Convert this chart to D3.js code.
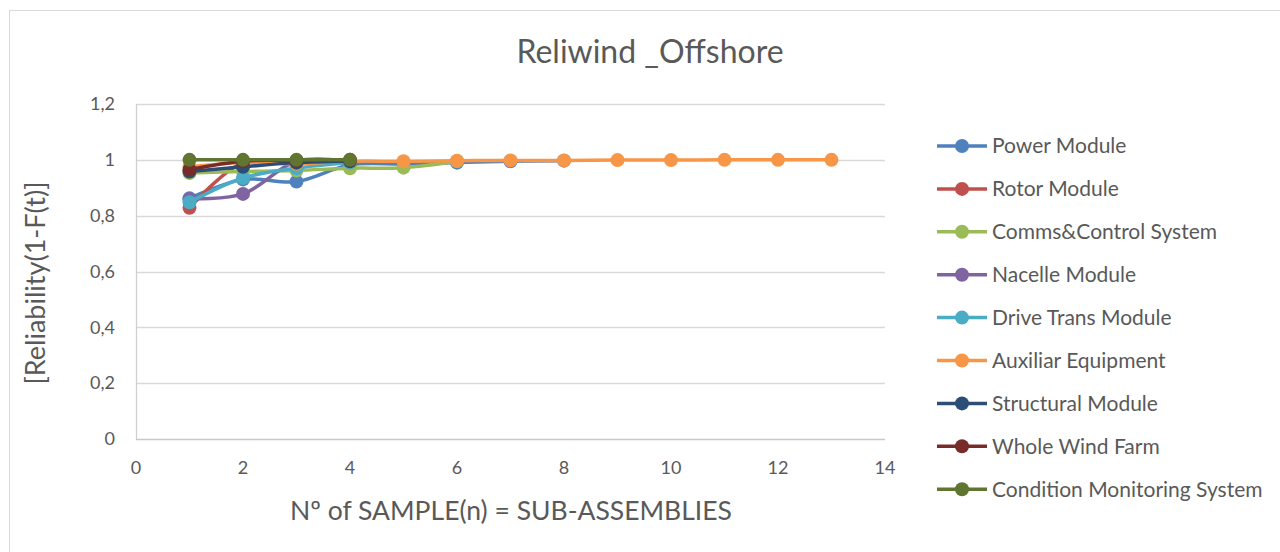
<!DOCTYPE html>
<html>
<head>
<meta charset="utf-8">
<script src="https://cdn.jsdelivr.net/npm/d3@7"></script>
<style>
  body { margin: 0; background: #fff; }
  svg text { font-family: Lato, "Open Sans", sans-serif; fill: #595959; }
</style>
</head>
<body>
<div id="chart"></div>
<script>
// DATA
var seriesNames = ["Power Module", "Rotor Module", "Comms&Control System", "Nacelle Module",
  "Drive Trans Module", "Auxiliar Equipment", "Structural Module", "Whole Wind Farm",
  "Condition Monitoring System"];
var seriesColors = ["#4F81BD", "#C0504D", "#9BBB59", "#8064A2", "#4BACC6", "#F79646",
  "#2C4D75", "#772C2A", "#5F7530"];

var powerModule = [0.862, 0.93, 0.922, 0.982, 0.985, 0.99, 0.995, 0.997];
var rotorModule = [0.828, 0.99, 0.99, 0.995];
var commsControl = [0.953, 0.958, 0.962, 0.97, 0.972, 0.995];
var nacelleModule = [0.86, 0.878, 0.995, 0.995];
var driveTrans = [0.848, 0.935, 0.97, 0.99];
var auxiliarEquip = [0.975, 0.99, 0.986, 0.995, 0.995, 0.997, 0.998, 0.998, 0.999, 0.999, 1, 1, 1];
var structuralModule = [0.958, 0.975, 0.99, 0.995];
var wholeWindFarm = [0.965, 0.995, 0.998, 1];
var conditionMonitoring = [1, 1, 1, 1];

var allValues = [powerModule, rotorModule, commsControl, nacelleModule, driveTrans,
  auxiliarEquip, structuralModule, wholeWindFarm, conditionMonitoring];

var xTicks = [0, 2, 4, 6, 8, 10, 12, 14];
var yTicks = [0, 0.2, 0.4, 0.6, 0.8, 1, 1.2];

// SVG
var width = 1280, height = 552;
var svg = d3.select("#chart").append("svg")
  .attr("width", width).attr("height", height);

// chart border
svg.append("rect")
  .attr("x", 9.5).attr("y", 10.5)
  .attr("width", 1290).attr("height", 560)
  .attr("fill", "none").attr("stroke", "#d9d9d9");

var plot = { left: 136, right: 885, top: 104, bottom: 439 };

var x = d3.scaleLinear().domain([0, 14]).range([plot.left, plot.right]);
var y = d3.scaleLinear().domain([0, 1.2]).range([plot.bottom, plot.top]);

// gridlines
svg.append("g").selectAll("line")
  .data(yTicks.filter(function(d){ return d > 0; }))
  .enter().append("line")
  .attr("x1", plot.left).attr("x2", plot.right)
  .attr("y1", function(d){ return Math.round(y(d)) + 0.5; })
  .attr("y2", function(d){ return Math.round(y(d)) + 0.5; })
  .attr("stroke", "#d9d9d9").attr("stroke-width", 1.3);

// axis lines
svg.append("line")
  .attr("x1", plot.left + 0.5).attr("x2", plot.left + 0.5)
  .attr("y1", plot.top).attr("y2", plot.bottom)
  .attr("stroke", "#d0d0d0").attr("stroke-width", 1.3);
svg.append("line")
  .attr("x1", plot.left).attr("x2", plot.right)
  .attr("y1", plot.bottom + 0.5).attr("y2", plot.bottom + 0.5)
  .attr("stroke", "#c8c8c8").attr("stroke-width", 1.3);

// tick labels
svg.append("g").selectAll("text")
  .data(yTicks).enter().append("text")
  .attr("x", 115).attr("y", function(d){ return y(d); })
  .attr("dy", "0.35em")
  .attr("text-anchor", "end")
  .style("font-size", "18px")
  .text(function(d){ return String(d).replace(".", ","); });

svg.append("g").selectAll("text")
  .data(xTicks).enter().append("text")
  .attr("x", function(d){ return x(d); }).attr("y", 468)
  .attr("dy", "0.35em")
  .attr("text-anchor", "middle")
  .style("font-size", "18px")
  .text(function(d){ return d; });

// titles
svg.append("text")
  .attr("x", 650).attr("y", 63)
  .attr("text-anchor", "middle")
  .style("font-size", "32px")
  .text("Reliwind _Offshore");

svg.append("text")
  .attr("x", 511).attr("y", 520)
  .attr("text-anchor", "middle")
  .style("font-size", "26.5px")
  .text("Nº of SAMPLE(n) = SUB-ASSEMBLIES");

svg.append("text")
  .attr("transform", "translate(45,283) rotate(-90)")
  .attr("text-anchor", "middle")
  .style("font-size", "27px")
  .text("[Reliability(1-F(t)]");

// lines
var line = d3.line()
  .x(function(d){ return x(d.x); })
  .y(function(d){ return y(d.y); })
  .curve(d3.curveCatmullRom.alpha(0.5));

var series = allValues.map(function(vals, i){
  return {
    name: seriesNames[i],
    color: seriesColors[i],
    points: vals.map(function(v, j){ return { x: j + 1, y: v }; })
  };
});

var g = svg.append("g");
series.forEach(function(s){
  var sg = g.append("g");
  sg.append("path")
    .attr("d", line(s.points))
    .attr("fill", "none")
    .attr("stroke", s.color)
    .attr("stroke-width", 3.5)
    .attr("stroke-linejoin", "round");
  sg.selectAll("circle")
    .data(s.points).enter().append("circle")
    .attr("cx", function(d){ return x(d.x); })
    .attr("cy", function(d){ return y(d.y); })
    .attr("r", 7)
    .attr("fill", s.color);
});

// legend
var legend = svg.append("g");
var item = legend.selectAll("g")
  .data(series).enter().append("g")
  .attr("transform", function(d, i){ return "translate(937," + (146 + i * 42.9) + ")"; });
item.append("line")
  .attr("x1", 0).attr("x2", 50)
  .attr("stroke", function(d){ return d.color; })
  .attr("stroke-width", 3.5);
item.append("circle")
  .attr("cx", 25).attr("r", 7)
  .attr("fill", function(d){ return d.color; });
item.append("text")
  .attr("x", 55).attr("dy", "0.35em")
  .style("font-size", "21px")
  .text(function(d){ return d.name; });
</script>
</body>
</html>
